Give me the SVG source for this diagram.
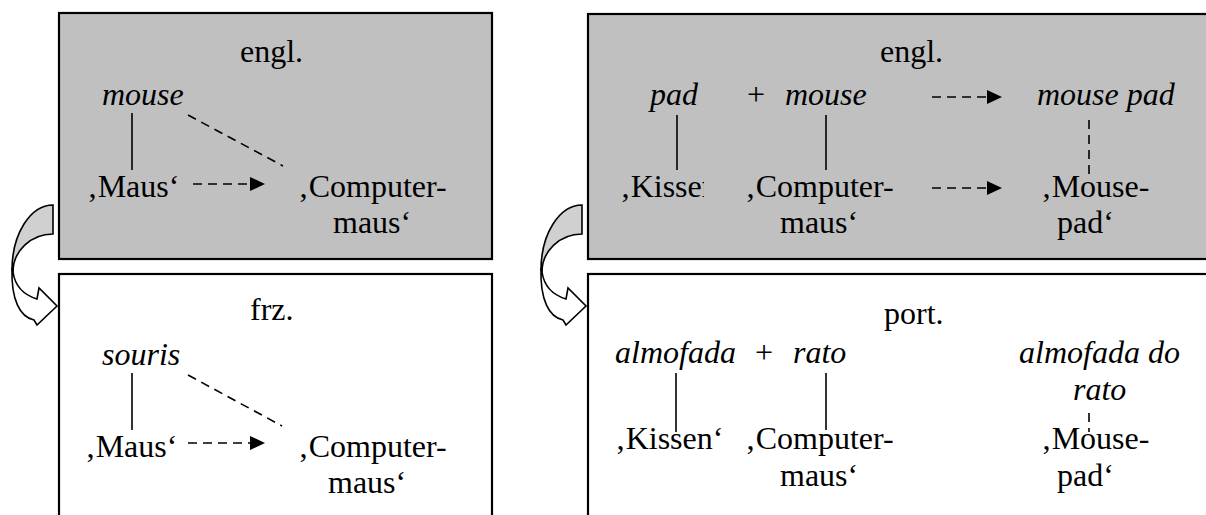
<svg xmlns="http://www.w3.org/2000/svg" width="1206" height="515" viewBox="0 0 1206 515">
<style>
.t{font-family:"Liberation Serif","Times New Roman",serif;font-size:32px;fill:#000}
.i{font-style:italic}
.box{stroke:#000;stroke-width:2.2}
.g{fill:#c0c0c0}
.w{fill:#fff}
.ln{stroke:#000;stroke-width:1.6;fill:none}
.dl{stroke:#000;stroke-width:1.6;fill:none;stroke-dasharray:9 6}
.ca{stroke:#000;stroke-width:1.6;stroke-linejoin:miter}
</style>
<defs>
<marker id="ah" viewBox="0 0 15 14" refX="0" refY="7" markerWidth="15" markerHeight="14" markerUnits="userSpaceOnUse" orient="auto">
<path d="M0,0 L15,7 L0,14 Z" fill="#000"/>
</marker>
<clipPath id="kc"><rect x="600" y="160" width="104" height="50"/></clipPath>
<g id="curv">
<path class="ca" fill="#d0d0d0" d="M53,205 A41,65 0 0 0 12,270 L13,272 A40,38 0 0 1 53,234 Z"/>
<path class="ca" fill="#fff" d="M12,268 C11,300 20,317 34,320 L37,325 L57,306 L39,288 L37,299 C24,295 15,286 13,272 Z"/>
</g>
</defs>

<g id="box-engl-left">
<rect class="box g" x="59" y="13" width="433" height="246"/>
<text class="t" x="240" y="62">engl.</text>
<text class="t i" x="102" y="105">mouse</text>
<text class="t" x="87" y="197">‚Maus‘</text>
<text class="t" x="298" y="197">‚Computer-</text>
<text class="t" x="333" y="233">maus‘</text>
</g>

<g id="box-frz">
<rect class="box w" x="59" y="274" width="433" height="260"/>
<text class="t" x="250" y="320">frz.</text>
<text class="t i" x="102" y="365">souris</text>
<text class="t" x="85" y="457">‚Maus‘</text>
<text class="t" x="298" y="457">‚Computer-</text>
<text class="t" x="328" y="493">maus‘</text>
</g>

<g id="box-engl-right">
<rect class="box g" x="588" y="14" width="640" height="245"/>
<text class="t" x="880" y="62">engl.</text>
<text class="t i" x="650" y="105">pad</text>
<text class="t" x="747" y="105">+</text>
<text class="t i" x="785" y="105">mouse</text>
<text class="t i" x="1037" y="105">mouse pad</text>
<text class="t" x="620" y="197" clip-path="url(#kc)">‚Kissen‘</text>
<text class="t" x="745" y="197">‚Computer-</text>
<text class="t" x="780" y="233">maus‘</text>
<text class="t" x="1041" y="197">‚Mouse-</text>
<text class="t" x="1057" y="233">pad‘</text>
</g>

<g id="box-port">
<rect class="box w" x="588" y="274" width="640" height="260"/>
<text class="t" x="884" y="324">port.</text>
<text class="t i" x="615" y="363">almofada</text>
<text class="t" x="755" y="363">+</text>
<text class="t i" x="793" y="363">rato</text>
<text class="t i" x="1019" y="363">almofada do</text>
<text class="t i" x="1073" y="400">rato</text>
<text class="t" x="615" y="449">‚Kissen‘</text>
<text class="t" x="745" y="449">‚Computer-</text>
<text class="t" x="780" y="486">maus‘</text>
<text class="t" x="1041" y="449">‚Mouse-</text>
<text class="t" x="1057" y="486">pad‘</text>
</g>

<g id="curved-arrow-left"><use href="#curv"/></g>
<g id="curved-arrow-right"><use href="#curv" transform="translate(529,0)"/></g>

<g id="connectors">
<line class="ln" x1="132" y1="113" x2="132" y2="170"/>
<line class="dl" x1="188" y1="115" x2="283" y2="166"/>
<line class="dl" x1="193" y1="184" x2="250" y2="184" marker-end="url(#ah)"/>

<line class="ln" x1="132" y1="373" x2="132" y2="430"/>
<line class="dl" x1="188" y1="375" x2="282" y2="426"/>
<line class="dl" x1="188" y1="443" x2="250" y2="443" marker-end="url(#ah)"/>

<line class="ln" x1="677" y1="115" x2="677" y2="170"/>
<line class="ln" x1="826" y1="115" x2="826" y2="170"/>
<line class="dl" x1="1089" y1="120" x2="1089" y2="175"/>
<line class="dl" x1="932" y1="97" x2="987" y2="97" marker-end="url(#ah)"/>
<line class="dl" x1="932" y1="188" x2="987" y2="188" marker-end="url(#ah)"/>

<line class="ln" x1="676" y1="373" x2="676" y2="432"/>
<line class="ln" x1="826" y1="373" x2="826" y2="430"/>
<line class="dl" x1="1089" y1="413" x2="1089" y2="432"/>
</g>
</svg>
